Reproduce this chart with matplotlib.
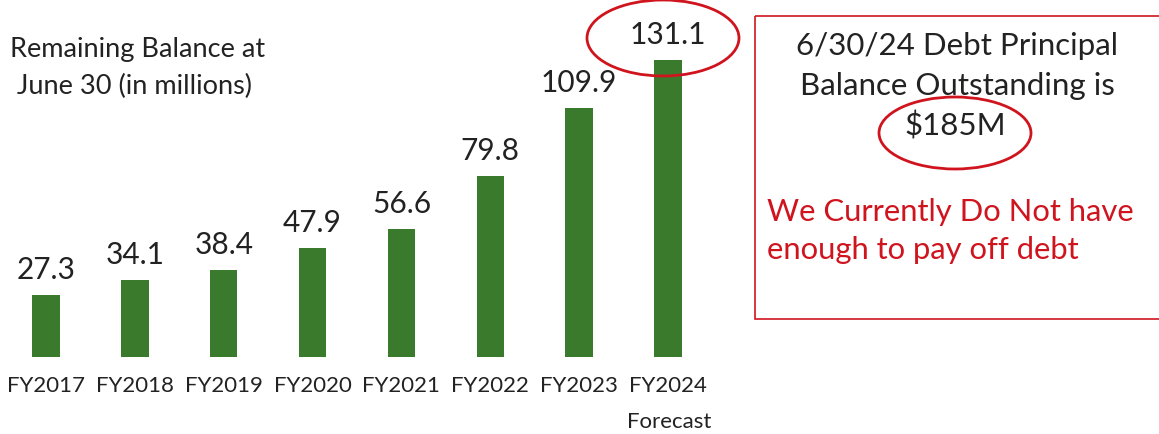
import matplotlib
matplotlib.use("Agg")
import matplotlib.pyplot as plt
from matplotlib.patches import Ellipse, Rectangle

plt.rcParams['font.family'] = ['Lato', 'DejaVu Sans']

# data
years = ['FY2017', 'FY2018', 'FY2019', 'FY2020', 'FY2021', 'FY2022', 'FY2023', 'FY2024']
balance = [27.3, 34.1, 38.4, 47.9, 56.6, 79.8, 109.9, 131.1]

W, H = 1159, 434
green = '#3a7a2c'
red = '#d0141e'
txt = '#222222'

fig = plt.figure(figsize=(W / 100, H / 100), dpi=100)

# bar axes, placed in pixel terms
left, right, bottom = 1.5, 712.5, 357
ax = fig.add_axes([left / W, (H - bottom) / H, (right - left) / W, bottom / H])
x = range(len(years))
ax.bar(x, balance, width=0.31, color=green, zorder=2)
ax.set_xlim(-0.5, len(years) - 0.5)
ax.set_ylim(0, 157.6)
for i, v in zip(x, balance):
    ax.annotate(f'{v:.1f}', (i, v), xytext=(0, 8), textcoords='offset points',
                ha='center', va='bottom', fontsize=21.5, color=txt)
ax.set_xticks(list(x))
ax.set_xticklabels(years, fontsize=16, color=txt)
ax.tick_params(length=0, pad=14)
for s in ax.spines.values():
    s.set_visible(False)
ax.set_yticks([])

# overlay for annotations in pixel coords
ov = fig.add_axes([0, 0, 1, 1], facecolor='none')
ov.set_xlim(0, W)
ov.set_ylim(H, 0)
ov.axis('off')

ov.text(669, 422, 'Forecast', ha='center', va='center', fontsize=16, color=txt)
ov.text(10, 50, 'Remaining Balance at', ha='left', va='center', fontsize=19.5, color=txt)
ov.text(10, 86, ' June 30 (in millions)', ha='left', va='center', fontsize=19.5, color=txt)

ov.add_patch(Rectangle((755, 16), 420, 303, fill=False, edgecolor=red, lw=1.2))
ov.text(957, 46, '6/30/24 Debt Principal', ha='center', va='center', fontsize=22.5, color=txt)
ov.text(957, 86, 'Balance Outstanding is', ha='center', va='center', fontsize=22.5, color=txt)
ov.text(955, 126, '$185M', ha='center', va='center', fontsize=22.5, color=txt)
ov.text(767, 212, 'We Currently Do Not have', ha='left', va='center', fontsize=22.3, color=red)
ov.text(767, 250, 'enough to pay off debt', ha='left', va='center', fontsize=22.3, color=red)

ov.add_patch(Ellipse((955, 133), 152, 72, fill=False, edgecolor=red, lw=2))
ov.add_patch(Ellipse((663, 38), 152, 76, fill=False, edgecolor=red, lw=2))

fig.savefig('out.png', dpi=100)
